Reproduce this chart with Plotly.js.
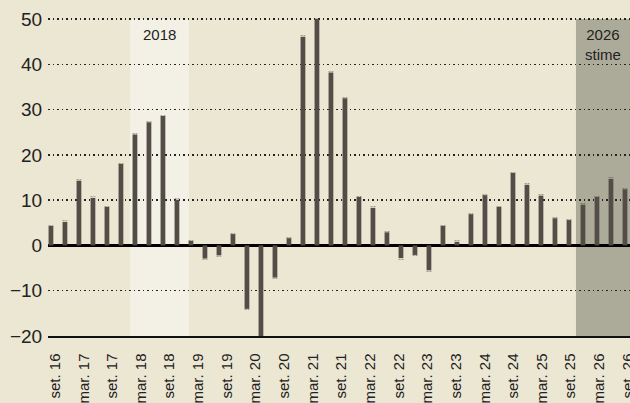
<!DOCTYPE html>
<html>
<head>
<meta charset="utf-8">
<script src="https://cdn.plot.ly/plotly-3.0.1.min.js"></script>
<style>
  html, body { margin: 0; padding: 0; background: #ece7d2; }
  #chart { width: 630px; height: 403px; }
</style>
</head>
<body>
<div id="chart"></div>
<script>
// Quarterly periods (Italian month abbreviations), from set. 2016
var quarters = [
  'set. 16','dic. 16','mar. 17','giu. 17','set. 17','dic. 17',
  'mar. 18','giu. 18','set. 18','dic. 18','mar. 19','giu. 19',
  'set. 19','dic. 19','mar. 20','giu. 20','set. 20','dic. 20',
  'mar. 21','giu. 21','set. 21','dic. 21','mar. 22','giu. 22',
  'set. 22','dic. 22','mar. 23','giu. 23','set. 23','dic. 23',
  'mar. 24','giu. 24','set. 24','dic. 24','mar. 25','giu. 25',
  'set. 25','dic. 25','mar. 26','giu. 26','set. 26','dic. 26'
];
var values = [
  4.3, 5.2, 14.3, 10.5, 8.5, 18.0,
  24.5, 27.2, 28.6, 10.1, 1.0, -2.9,
  -2.2, 2.5, -14.0, -20.0, -7.1, 1.6,
  46.1, 50.0, 38.2, 32.5, 10.7, 8.3,
  2.9, -2.8, -2.1, -5.5, 4.3, 0.8,
  6.9, 11.1, 8.5, 16.0, 13.4, 11.0,
  6.0, 5.6, 9.0, 10.7, 14.7, 12.4
];
var tickLabels = [
  'set. 16','mar. 17','set. 17','mar. 18','set. 18','mar. 19','set. 19',
  'mar. 20','set. 20','mar. 21','set. 21','mar. 22','set. 22','mar. 23',
  'set. 23','mar. 24','set. 24','mar. 25','set. 25','mar. 26','set. 26'
];
var yTicks = [-20, -10, 0, 10, 20, 30, 40, 50];
var highlight2018 = ['2018'];
var highlight2026 = ['2026<br>stime'];

var xIdx = quarters.map(function (q, i) { return i; });
var tickPos = tickLabels.map(function (t, k) { return 0.29 + k * 2.046; });

var trace = {
  type: 'bar',
  x: xIdx,
  y: values,
  text: quarters,
  hoverinfo: 'text+y',
  width: 0.34,
  marker: { color: '#544c47', line: { width: 0 } }
};

var layout = {
  width: 630,
  height: 403,
  margin: { l: 48, r: 0, t: 17, b: 67, pad: 0 },
  paper_bgcolor: '#ece7d2',
  plot_bgcolor: '#ece7d2',
  showlegend: false,
  font: { family: '"Liberation Sans", Arial, sans-serif', color: '#222' },
  xaxis: {
    range: [-0.21, 41.36],
    tickmode: 'array',
    tickvals: tickPos,
    ticktext: tickLabels,
    tickangle: -90,
    ticks: 'outside',
    ticklen: 10,
    tickcolor: 'rgba(0,0,0,0)',
    tickfont: { size: 15, color: '#222' },
    ticklabeloverflow: 'allow',
    showgrid: false,
    zeroline: false,
    showline: true,
    linecolor: '#111',
    linewidth: 1.5,
    fixedrange: true
  },
  yaxis: {
    range: [-20, 50.44],
    tickmode: 'array',
    tickvals: yTicks,
    ticks: 'outside',
    ticklen: 1,
    tickcolor: 'rgba(0,0,0,0)',
    tickfont: { size: 19, color: '#222' },
    showgrid: true,
    gridcolor: '#222',
    gridwidth: 1.5,
    griddash: '1.5px,3px',
    zeroline: true,
    zerolinecolor: '#000',
    zerolinewidth: 3,
    showline: false,
    fixedrange: true
  },
  shapes: [
    { type: 'rect', xref: 'x', yref: 'y', x0: 5.64, x1: 9.86, y0: -20, y1: 50,
      fillcolor: '#f3f1e5', line: { width: 0 }, layer: 'below' },
    { type: 'rect', xref: 'x', yref: 'y', x0: 37.5, x1: 41.4, y0: -20, y1: 50,
      fillcolor: '#acab9a', line: { width: 0 }, layer: 'below' }
  ],
  annotations: [
    { xref: 'x', yref: 'y', x: 7.75, y: 49, yanchor: 'top', showarrow: false,
      text: highlight2018[0], font: { size: 15, color: '#222' } },
    { xref: 'x', yref: 'y', x: 39.45, y: 49, yanchor: 'top', showarrow: false,
      text: highlight2026[0], font: { size: 15, color: '#222' } }
  ]
};

Plotly.newPlot('chart', [trace], layout, { displayModeBar: false, staticPlot: true });
</script>
</body>
</html>
